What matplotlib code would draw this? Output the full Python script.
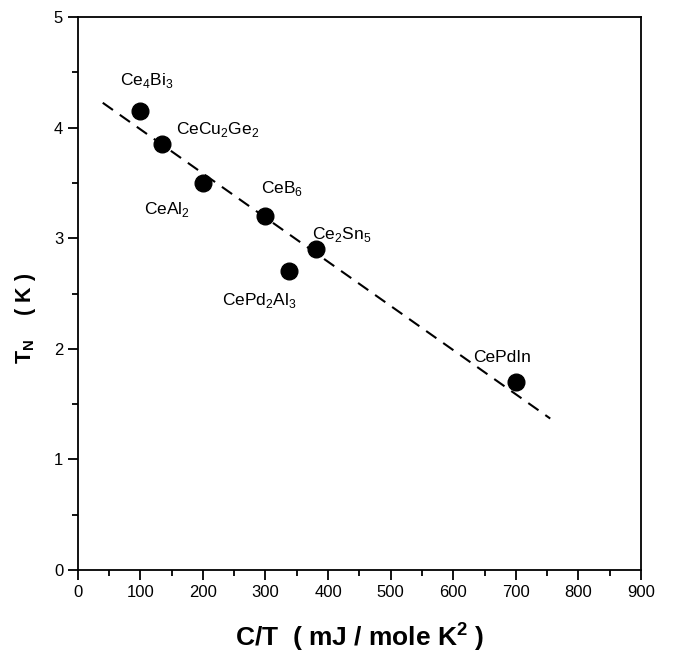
import numpy as np
import matplotlib
matplotlib.use("Agg")
import matplotlib.pyplot as plt
from matplotlib.ticker import MultipleLocator

plt.rcParams['font.family'] = ['Liberation Sans', 'DejaVu Sans']
plt.rcParams['mathtext.fontset'] = 'custom'
plt.rcParams['mathtext.rm'] = 'Liberation Sans'
plt.rcParams['mathtext.bf'] = 'Liberation Sans:bold'

# compounds: C/T (mJ/mole K^2) vs T_N (K)
compounds = ['Ce$_4$Bi$_3$', 'CeCu$_2$Ge$_2$', 'CeAl$_2$', 'CeB$_6$',
             'Ce$_2$Sn$_5$', 'CePd$_2$Al$_3$', 'CePdIn']
gamma = [100, 135, 200, 300, 380, 338, 700]
t_neel = [4.15, 3.85, 3.5, 3.2, 2.9, 2.7, 1.7]

# label anchor points (data coords)
label_x = [110, 223, 142, 326, 422, 290, 678]
label_y = [4.43, 3.98, 3.26, 3.45, 3.03, 2.44, 1.92]

# dashed guide line endpoints
fit_x = [40, 755]
fit_y = [4.225, 1.37]

fig = plt.figure(figsize=(6.74, 6.56), dpi=100)
ax = fig.add_axes([0.1153, 0.131, 0.8357, 0.843])

ax.plot(fit_x, fit_y, color='black', linestyle=(0, (6, 4)), linewidth=1.5)
ax.plot(gamma, t_neel, 'o', color='black', markersize=12)

for name, lx, ly in zip(compounds, label_x, label_y):
    ax.text(lx, ly, name, fontsize=12.5, ha='center', va='center')

ax.set_xlim(0, 900)
ax.set_ylim(0, 5)
ax.xaxis.set_major_locator(MultipleLocator(100))
ax.xaxis.set_minor_locator(MultipleLocator(50))
ax.yaxis.set_major_locator(MultipleLocator(1))
ax.yaxis.set_minor_locator(MultipleLocator(0.5))
ax.tick_params(which='both', direction='out', top=False, right=False,
               width=1.3, labelsize=12)
ax.tick_params(which='major', length=7)
ax.tick_params(which='minor', length=4)
for s in ax.spines.values():
    s.set_linewidth(1.3)

ax.set_xlabel(r'C/T  ( mJ / mole K$^\mathbf{2}$ )', fontsize=19,
              fontweight='bold')
ax.set_ylabel(r'T$_\mathbf{N}$    ( K )', fontsize=15.5, fontweight='bold')
ax.xaxis.set_label_coords(0.5, -0.09)
ax.yaxis.set_label_coords(-0.07, 0.455)

fig.savefig('out.png', dpi=100)
